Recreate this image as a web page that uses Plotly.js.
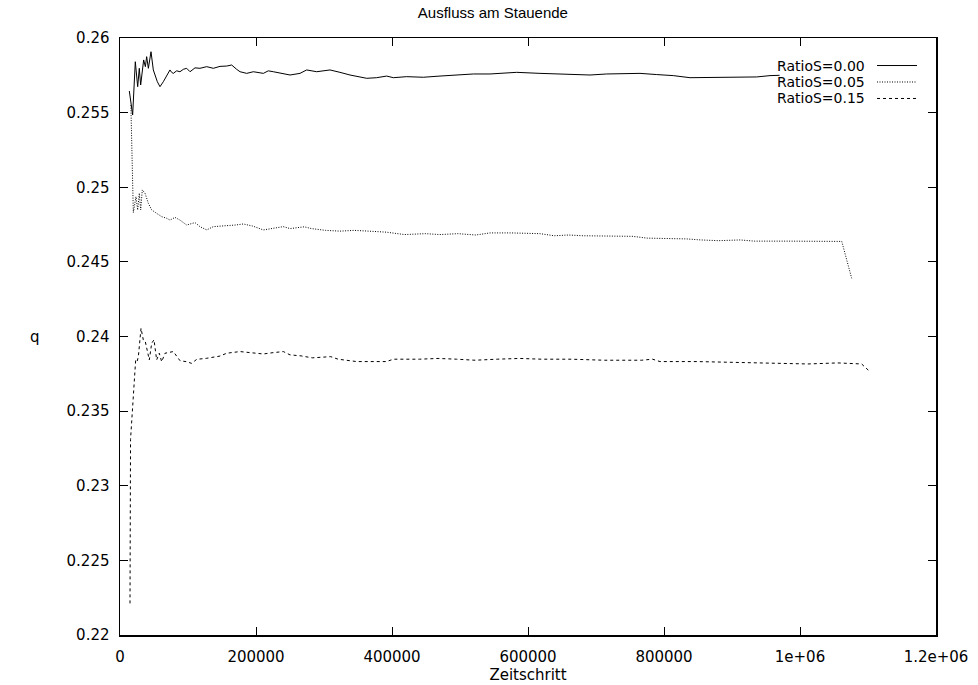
<!DOCTYPE html>
<html>
<head>
<meta charset="utf-8">
<script src="https://cdn.plot.ly/plotly-3.0.1.min.js"></script>
<style>html,body{margin:0;padding:0;background:#fff;}#chart{width:978px;height:685px;}</style>
</head>
<body>
<div id="chart"></div>
<script>
const seriesNames = ["RatioS=0.00", "RatioS=0.05", "RatioS=0.15"];

const s0x = [13700, 18600, 22500, 26000, 28400, 30400, 34800, 37300, 39200, 41700,
  45600, 49000, 54900, 58800, 63700, 68600, 73500, 75900, 78400, 83300,
  88200, 93100, 98000, 103000, 110300, 117600, 127500, 137200, 147100, 156900,
  164200, 171600, 176500, 186300, 196100, 210800, 218100, 225500, 240200, 250000,
  264700, 274500, 289300, 308800, 323500, 338200, 362800, 377500, 392200, 402000,
  421600, 446000, 470600, 495100, 519600, 544100, 583400, 617600, 642200, 666700,
  691200, 715700, 740200, 764700, 789300, 813700, 838200, 862800, 887300, 911800,
  936300, 955900, 970000];
const s0y = [0.25645, 0.25484, 0.25841, 0.25674, 0.25797, 0.25685, 0.25853, 0.25808, 0.25875, 0.25797,
  0.25908, 0.25786, 0.25707, 0.25674, 0.25707, 0.2575, 0.25786, 0.2577, 0.25763, 0.2578,
  0.25774, 0.2579, 0.25797, 0.25774, 0.2580, 0.25797, 0.25808, 0.25797, 0.2581, 0.25812,
  0.25819, 0.2579, 0.25774, 0.25763, 0.25774, 0.25763, 0.2578, 0.25774, 0.25763, 0.25752,
  0.25763, 0.25786, 0.25774, 0.25786, 0.2577, 0.25752, 0.2573, 0.25734, 0.25745, 0.25734,
  0.25741, 0.25737, 0.25745, 0.25752, 0.25759, 0.25759, 0.2577, 0.25763, 0.25759, 0.25759,
  0.25752, 0.25759, 0.25759, 0.25763, 0.25755, 0.25748, 0.25734, 0.25734, 0.25737, 0.25737,
  0.25739, 0.25748, 0.2575];

const s1x = [16000, 19600, 23500, 26000, 28400, 30400, 32800, 36800, 41700, 46600,
  53900, 61300, 68600, 73500, 80900, 88200, 98000, 110300, 117600, 127500,
  137200, 156900, 170000, 181300, 195000, 210800, 225500, 240200, 250000, 271000,
  281500, 302500, 323500, 344600, 365600, 391800, 418100, 449600, 470600, 496900,
  523100, 544100, 575600, 617600, 638700, 659700, 680700, 722700, 754200, 775200,
  811900, 833000, 854000, 880300, 911800, 932800, 985300, 1037800, 1061400, 1076000];
const s1y = [0.2555, 0.2483, 0.24937, 0.24848, 0.2496, 0.24848, 0.24982, 0.2496, 0.24892, 0.24848,
  0.24825, 0.24803, 0.24792, 0.2478, 0.24798, 0.2478, 0.24747, 0.24763, 0.24736, 0.24714,
  0.24736, 0.2474, 0.24747, 0.24754, 0.2474, 0.24714, 0.24725, 0.24736, 0.24723, 0.24735,
  0.24723, 0.24711, 0.24706, 0.24711, 0.24706, 0.24699, 0.24683, 0.24689, 0.24683, 0.24689,
  0.2468, 0.24694, 0.24694, 0.24689, 0.24675, 0.2468, 0.24675, 0.24675, 0.24671, 0.24659,
  0.24659, 0.24654, 0.24647, 0.24642, 0.24647, 0.24639, 0.24639, 0.24637, 0.24637, 0.2439];

const s2x = [14700, 15500, 23000, 25000, 27000, 30900, 34300, 37000, 43100, 46600,
  50000, 53900, 57800, 61300, 66200, 73500, 78400, 88200, 98000, 105400,
  112800, 127500, 147100, 156900, 176500, 191200, 210800, 225500, 240200, 250000,
  266300, 282700, 309900, 320700, 348000, 391500, 402400, 440500, 467700, 494900,
  522100, 554700, 587300, 620000, 663500, 712500, 766900, 783200, 794100, 848500,
  902900, 957400, 1011800, 1055200, 1090600, 1101500];
const s2y = [0.22212, 0.2331, 0.2384, 0.2383, 0.23865, 0.24055, 0.23977, 0.2397, 0.23843, 0.23955,
  0.23978, 0.23843, 0.23888, 0.23831, 0.23888, 0.23892, 0.23899, 0.23838, 0.23831, 0.2382,
  0.23847, 0.23854, 0.23869, 0.23888, 0.23899, 0.23892, 0.23883, 0.23892, 0.23899, 0.23877,
  0.2387, 0.23857, 0.23865, 0.23848, 0.23832, 0.23832, 0.23848, 0.23848, 0.23853, 0.23848,
  0.23841, 0.23848, 0.23853, 0.23848, 0.23848, 0.23841, 0.23841, 0.23848, 0.23832, 0.23832,
  0.23828, 0.23823, 0.23816, 0.23823, 0.23816, 0.2377];

const xTickVals = [0, 200000, 400000, 600000, 800000, 1000000, 1200000];
const xTickText = ["0", "200000", "400000", "600000", "800000", "1e+06", "1.2e+06"];
const yTickVals = [0.22, 0.225, 0.23, 0.235, 0.24, 0.245, 0.25, 0.255, 0.26];
const yTickText = ["0.22", "0.225", "0.23", "0.235", "0.24", "0.245", "0.25", "0.255", "0.26"];

const dashes = ["solid", "1px,1.5px", "3px,3px"];
const xs = [s0x, s1x, s2x];
const ys = [s0y, s1y, s2y];

const font = "DejaVu Sans, Liberation Sans, Arial, sans-serif";
const titleFont = "Liberation Sans, Arial, Helvetica, sans-serif";

const traces = seriesNames.map((n, i) => ({
  x: xs[i], y: ys[i], name: n, type: "scatter", mode: "lines",
  line: {color: "#000", width: 1, dash: dashes[i]},
  showlegend: false, hoverinfo: "skip"
}));

// gnuplot-style key: text right-aligned, sample line on the right
const keyY = [0.9539, 0.9263, 0.8987];
const annotations = seriesNames.map((n, i) => ({
  xref: "paper", yref: "paper", x: 0.916, y: keyY[i],
  xanchor: "right", yanchor: "middle", text: n, showarrow: false,
  font: {family: font, size: 14, color: "#000"}
}));
annotations.push({
  xref: "paper", yref: "paper", x: -0.104, y: 0.5, xanchor: "center", yanchor: "middle",
  text: "q", showarrow: false, font: {family: font, size: 15, color: "#000"}
});
const shapes = seriesNames.map((n, i) => ({
  type: "line", xref: "paper", yref: "paper", x0: 0.9277, x1: 0.9767, y0: keyY[i], y1: keyY[i],
  line: {color: "#000", width: 1, dash: dashes[i]}
}));

const axisCommon = {
  showgrid: false, zeroline: false, showline: true, mirror: "ticks",
  linecolor: "#000", linewidth: 1.5, ticks: "inside", ticklen: 8, tickwidth: 1, tickcolor: "#000",
  tickfont: {family: font, size: 15, color: "#000"}
};

const layout = {
  width: 978, height: 685,
  margin: {l: 120, r: 42, t: 38, b: 50},
  paper_bgcolor: "#fff", plot_bgcolor: "#fff",
  title: {text: "Ausfluss am Stauende", font: {family: titleFont, size: 15, color: "#000"}, x: 0.504, xanchor: "center", y: 0.982, yanchor: "middle"},
  xaxis: Object.assign({}, axisCommon, {
    range: [0, 1200000], tickmode: "array", tickvals: xTickVals, ticktext: xTickText,
    ticklabelstandoff: 7,
    title: {text: "Zeitschritt", font: {family: font, size: 15, color: "#000"}, standoff: 0}
  }),
  yaxis: Object.assign({}, axisCommon, {
    range: [0.22, 0.26], tickmode: "array", tickvals: yTickVals, ticktext: yTickText,
    ticklabelstandoff: 6
  }),
  annotations: annotations,
  shapes: shapes
};

Plotly.newPlot("chart", traces, layout, {displayModeBar: false, staticPlot: true});
</script>
</body>
</html>
